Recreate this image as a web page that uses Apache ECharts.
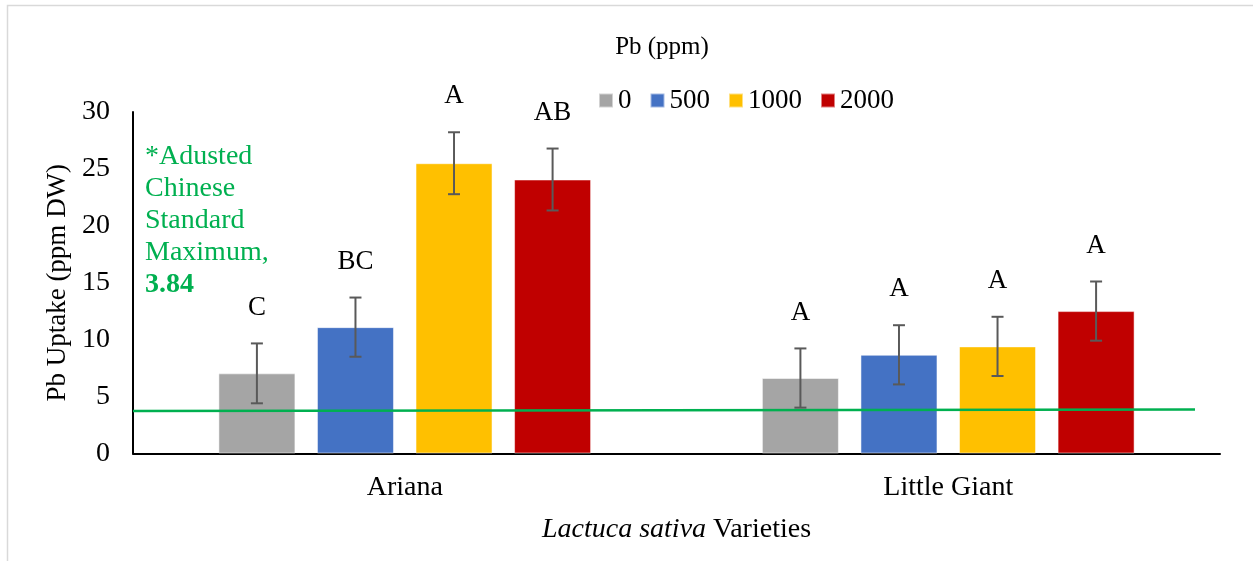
<!DOCTYPE html>
<html>
<head>
<meta charset="utf-8">
<script src="https://cdn.jsdelivr.net/npm/echarts@6/dist/echarts.min.js"></script>
<style>
  html, body { margin: 0; padding: 0; background: #fff; }
  #chart { width: 1253px; height: 561px; }
</style>
</head>
<body>
<div id="chart"></div>
<script>
const categories = ['Ariana', 'Little Giant']
const doses = ['0', '500', '1000', '2000']

// mean Pb uptake (ppm DW) per dose, one value per variety
const pb0 = [7.04, 6.63]
const pb500 = [11.1, 8.67]
const pb1000 = [25.5, 9.41]
const pb2000 = [24.07, 12.51]

// error bar half widths
const err0 = [2.63, 2.6]
const err500 = [2.6, 2.6]
const err1000 = [2.72, 2.6]
const err2000 = [2.72, 2.6]

// significance letters
const letters0 = ['C', 'A']
const letters500 = ['BC', 'A']
const letters1000 = ['A', 'A']
const letters2000 = ['AB', 'A']

// chinese standard maximum line (start, end)
const limitLine = [3.74, 3.86]

const yTicks = { min: 0, max: 30, interval: 5 }

const FONT = "'Liberation Serif', 'Times New Roman', serif"
const colors = ['#a5a5a5', '#4472c4', '#ffc000', '#c00000']
const means = [pb0, pb500, pb1000, pb2000]
const errs = [err0, err500, err1000, err2000]
const letters = [letters0, letters500, letters1000, letters2000]

const BAR_W = 77
const STEP = BAR_W * 1.28 // bar width + gap

const chart = echarts.init(document.getElementById('chart'), null, { renderer: 'canvas' })

function errorItem(k) {
  return function (params, api) {
    const c = api.value(0)
    const m = api.value(1)
    const e = api.value(2)
    const x = api.coord([c, m])[0] + (k - 1.5) * STEP
    const hi = api.coord([c, m + e])[1]
    const lo = api.coord([c, m - e])[1]
    const st = { stroke: '#595959', lineWidth: 2 }
    return {
      type: 'group',
      children: [
        { type: 'line', shape: { x1: x, y1: hi, x2: x, y2: lo }, style: st },
        { type: 'line', shape: { x1: x - 6, y1: hi, x2: x + 6, y2: hi }, style: st },
        { type: 'line', shape: { x1: x - 6, y1: lo, x2: x + 6, y2: lo }, style: st },
        {
          type: 'text',
          x: x,
          y: hi - 36,
          style: {
            text: letters[k][params.dataIndex],
            font: '27px ' + FONT,
            fill: '#000',
            align: 'center',
            verticalAlign: 'middle',
          },
        },
      ],
    }
  }
}

const series = []
doses.forEach((d, k) => {
  series.push({
    name: d,
    type: 'bar',
    barWidth: BAR_W,
    barGap: '28%',
    itemStyle: { color: colors[k], borderColor: 'rgba(255,255,255,0.5)', borderWidth: 1 },
    data: means[k],
    z: 2,
  })
})
doses.forEach((d, k) => {
  series.push({
    type: 'custom',
    renderItem: errorItem(k),
    data: means[k].map((m, i) => [i, m, errs[k][i]]),
    encode: { x: 0, y: 1 },
    z: 4,
    silent: true,
  })
})
series.push({
  type: 'line',
  xAxisIndex: 1,
  yAxisIndex: 1,
  data: limitLine.map((v, i) => [i, v]),
  symbol: 'none',
  lineStyle: { color: '#00b050', width: 2.5 },
  z: 3,
  silent: true,
})

chart.setOption({
  animation: false,
  backgroundColor: '#fff',
  textStyle: { fontFamily: FONT },
  graphic: [
    {
      type: 'rect',
      shape: { x: 7.5, y: 5.5, width: 1300, height: 600 },
      style: { fill: 'none', stroke: '#d9d9d9', lineWidth: 1.5 },
      silent: true,
    },
  ],
  title: [
    {
      text: 'Pb (ppm)',
      left: 662,
      textAlign: 'center',
      top: 34,
      padding: 0,
      textStyle: { fontFamily: FONT, fontSize: 25, lineHeight: 26, fontWeight: 'normal', color: '#000' },
    },
    {
      text: '*Adusted\nChinese\nStandard\nMaximum,\n{b|3.84}',
      left: 145,
      top: 141,
      padding: 0,
      textStyle: {
        fontFamily: FONT,
        fontSize: 28,
        lineHeight: 32,
        fontWeight: 'normal',
        color: '#00b050',
        rich: {
          b: { fontFamily: FONT, fontSize: 28, lineHeight: 32, fontWeight: 'bold', color: '#00b050' },
        },
      },
    },
  ],
  legend: {
    data: doses,
    left: 598,
    top: 87,
    padding: 0,
    itemWidth: 14,
    itemHeight: 14,
    itemGap: 18,
    icon: 'rect',
    textStyle: { fontFamily: FONT, fontSize: 27, color: '#000' },
  },
  grid: [
    { left: 133, right: 33, top: 112, bottom: 107.5 },
    { left: 133, right: 58, top: 112, bottom: 107.5 },
  ],
  xAxis: [
    {
      type: 'category',
      data: categories,
      axisLine: { lineStyle: { color: '#000', width: 2 } },
      axisTick: { show: false },
      axisLabel: { color: '#000', fontSize: 28, fontFamily: FONT, margin: 20 },
      name: '{i|Lactuca sativa} Varieties',
      nameLocation: 'middle',
      nameGap: 62,
      nameTextStyle: {
        color: '#000',
        fontSize: 28,
        fontFamily: FONT,
        rich: { i: { fontStyle: 'italic', fontSize: 28, fontFamily: FONT, color: '#000' } },
      },
    },
    { type: 'value', gridIndex: 1, min: 0, max: 1, show: false },
  ],
  yAxis: [
    {
      type: 'value',
      min: yTicks.min,
      max: yTicks.max,
      interval: yTicks.interval,
      axisLine: { show: true, lineStyle: { color: '#000', width: 2 } },
      axisTick: { show: false },
      splitLine: { show: false },
      axisLabel: { color: '#000', fontSize: 28, fontFamily: FONT, margin: 23 },
      name: 'Pb Uptake (ppm DW)',
      nameLocation: 'middle',
      nameGap: 62,
      nameTextStyle: { color: '#000', fontSize: 27, fontFamily: FONT },
    },
    { type: 'value', gridIndex: 1, min: yTicks.min, max: yTicks.max, show: false },
  ],
  series: series,
})
</script>
</body>
</html>
